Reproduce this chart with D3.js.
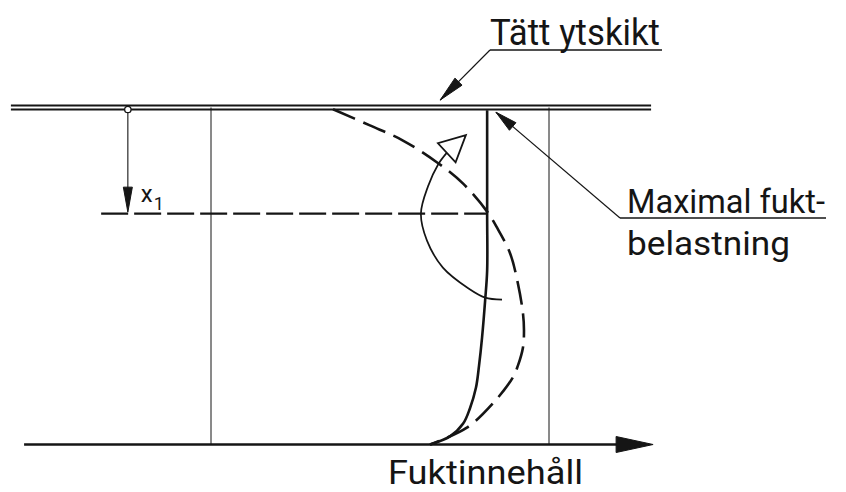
<!DOCTYPE html>
<html lang="sv">
<head>
<meta charset="UTF-8">
<title>Fuktinnehåll</title>
<script src="https://d3js.org/d3.v7.min.js"></script>
<style>
    body{ margin: 0; background: #fff; }
    svg text, svg tspan{ font-family: Roboto, "Liberation Sans", sans-serif; font-weight: 400; fill: #151515; }
</style>
</head>
<body>
<svg id="canvas" width="846" height="492"></svg>
<script>
    // moisture: 0 and 100 at the two thin verticals, depth: 0 at the surface, 100 at the bottom
    let refMoisture = [0, 100];
    let solidMoisture = [81.7, 81.7, 81.7, 81.1, 80.2, 79.3, 78.4, 76.6, 74.6, 70.7, 64.8];
    let solidDepth    = [0.8, 31.5, 48.4, 57.3, 68.2, 76.6, 83.1, 89.3, 93.8, 97.6, 100];
    let dashMoisture  = [36.1, 47.0, 56.8, 66.9, 74.6, 81.7, 84.6, 88.5, 90.8, 92.3, 92.6, 92.3, 90.8, 89.3, 83.4, 75.7, 64.8];
    let dashDepth     = [0.5, 5.3, 9.8, 16.3, 22.6, 30.9, 35.6, 43.3, 52.2, 61.1, 66.2, 71.2, 76.6, 80.1, 87.8, 95.0, 100];
    let arcMoisture   = [69.8, 67.2, 64.2, 62.1, 63.9, 68.6, 76.2, 81.1, 86.1];
    let arcDepth      = [13.4, 16.9, 23.4, 31.5, 39.5, 47.5, 53.7, 56.4, 57.0];
    let arcTip = [75.4, 8.2];
    let x1Depth = 31.5;
    let x1Moisture = -24.6;
    let x1LineFrom = -32.5;
    let axisRange = [-55.3, 130.8];
    let surfaceRange = [-59.2, 130.2];
    let labels = ["Tätt ytskikt", "Maximal fukt-", "belastning", "Fuktinnehåll"];

    let svg = d3.select('#canvas');
    let ink = "#151515";

    let x = d3.scaleLinear().domain([0, 100]).range([211, 549]);
    let y = d3.scaleLinear().domain([0, 100]).range([107.5, 444.5]);

    let line = d3.line()
        .x(function (d) { return x(d[0]); })
        .y(function (d) { return y(d[1]); })
        .curve(d3.curveCatmullRom.alpha(0.5));

    // triangle arrow head, tip at (tx,ty) pointing away from (fx,fy)
    function arrowHead(tx, ty, fx, fy, len, halfW, filled) {
        let dx = tx - fx, dy = ty - fy;
        let l = Math.sqrt(dx * dx + dy * dy);
        let ux = dx / l, uy = dy / l;
        let bx = tx - ux * len, by = ty - uy * len;
        let pts = [[tx, ty], [bx - uy * halfW, by + ux * halfW], [bx + uy * halfW, by - ux * halfW]];
        svg.append("path")
            .attr("d", "M" + pts.join("L") + "Z")
            .attr("fill", filled ? ink : "#fff")
            .attr("stroke", ink)
            .attr("stroke-width", filled ? 1 : 1.8)
            .attr("stroke-linejoin", "miter");
    }

    // thin reference verticals
    svg.selectAll(".ref")
        .data(refMoisture)
        .enter()
        .append("line")
        .attr("class", "ref")
        .attr("x1", function (d) { return x(d); })
        .attr("x2", function (d) { return x(d); })
        .attr("y1", y(0))
        .attr("y2", y(100))
        .attr("stroke", ink)
        .attr("stroke-width", 1);

    // surface layer (double line)
    svg.selectAll(".surface")
        .data([-2, 2])
        .enter()
        .append("line")
        .attr("x1", x(surfaceRange[0]))
        .attr("x2", x(surfaceRange[1]))
        .attr("y1", function (d) { return y(0) + d; })
        .attr("y2", function (d) { return y(0) + d; })
        .attr("stroke", ink)
        .attr("stroke-width", 2);

    // bottom axis with arrow
    svg.append("line")
        .attr("x1", x(axisRange[0]))
        .attr("x2", x(axisRange[1]) - 30)
        .attr("y1", y(100))
        .attr("y2", y(100))
        .attr("stroke", ink)
        .attr("stroke-width", 2.6);
    arrowHead(x(axisRange[1]), y(100), x(axisRange[0]), y(100), 37, 8, true);

    // depth x1 dashed level
    svg.append("line")
        .attr("x1", x(x1LineFrom))
        .attr("x2", x(solidMoisture[1]))
        .attr("y1", y(x1Depth))
        .attr("y2", y(x1Depth))
        .attr("stroke", ink)
        .attr("stroke-width", 2.4)
        .attr("stroke-dasharray", "27,6");

    // x1 dimension
    svg.append("circle")
        .attr("cx", x(x1Moisture))
        .attr("cy", y(0) + 2)
        .attr("r", 3.2)
        .attr("fill", "#fff")
        .attr("stroke", ink)
        .attr("stroke-width", 1.3);
    svg.append("line")
        .attr("x1", x(x1Moisture))
        .attr("x2", x(x1Moisture))
        .attr("y1", y(0) + 5)
        .attr("y2", y(x1Depth) - 20)
        .attr("stroke", ink)
        .attr("stroke-width", 1.1);
    arrowHead(x(x1Moisture), y(x1Depth) - 1.5, x(x1Moisture), y(0), 25, 4.5, true);
    let x1Label = svg.append("text")
        .attr("x", x(x1Moisture) + 13)
        .attr("y", y(x1Depth) - 12)
        .style("font-size", "24px");
    x1Label.append("tspan").text("x");
    x1Label.append("tspan").attr("dy", 8).attr("dx", 1).style("font-size", "18px").text("1");

    // moisture profiles
    let solidPts = d3.zip(solidMoisture, solidDepth);
    let dashPts = d3.zip(dashMoisture, dashDepth);
    let arcPts = d3.zip(arcMoisture, arcDepth);

    svg.append("path")
        .datum(dashPts)
        .attr("d", line)
        .attr("fill", "none")
        .attr("stroke", ink)
        .attr("stroke-width", 2.6)
        .attr("stroke-dasharray", "24,9");

    svg.append("path")
        .datum(solidPts)
        .attr("d", line)
        .attr("fill", "none")
        .attr("stroke", ink)
        .attr("stroke-width", 2.6);

    // turning arrow
    svg.append("path")
        .datum(arcPts)
        .attr("d", line)
        .attr("fill", "none")
        .attr("stroke", ink)
        .attr("stroke-width", 1.7);
    arrowHead(x(arcTip[0]), y(arcTip[1]), x(arcMoisture[0]), y(arcDepth[0]), 26, 13, false);

    // labels with leaders
    function leader(x0, y0, x1, y1, tipX, tipY, len) {
        svg.append("line")
            .attr("x1", x0).attr("y1", y0).attr("x2", x1).attr("y2", y1)
            .attr("stroke", ink).attr("stroke-width", 1.6);
        svg.append("line")
            .attr("x1", x0).attr("y1", y0).attr("x2", tipX).attr("y2", tipY)
            .attr("stroke", ink).attr("stroke-width", 1.2);
        arrowHead(tipX, tipY, x0, y0, len, 5, true);
    }

    svg.append("text").attr("x", 490).attr("y", 45)
        .attr("textLength", 170).attr("lengthAdjust", "spacingAndGlyphs")
        .style("font-size", "37px").text(labels[0]);
    leader(490, 50, 662, 50, x(67.8), y(-2.2), 26);

    svg.append("text").attr("x", 627).attr("y", 213)
        .attr("textLength", 198).attr("lengthAdjust", "spacingAndGlyphs")
        .style("font-size", "33px").text(labels[1]);
    svg.append("text").attr("x", 627).attr("y", 255)
        .attr("textLength", 163).attr("lengthAdjust", "spacingAndGlyphs")
        .style("font-size", "33px").text(labels[2]);
    leader(620, 218, 826, 218, x(84.3), y(1.4), 22);

    svg.append("text").attr("x", 388).attr("y", 484)
        .attr("textLength", 195).attr("lengthAdjust", "spacingAndGlyphs")
        .style("font-size", "33px").text(labels[3]);
</script>
</body>
</html>
